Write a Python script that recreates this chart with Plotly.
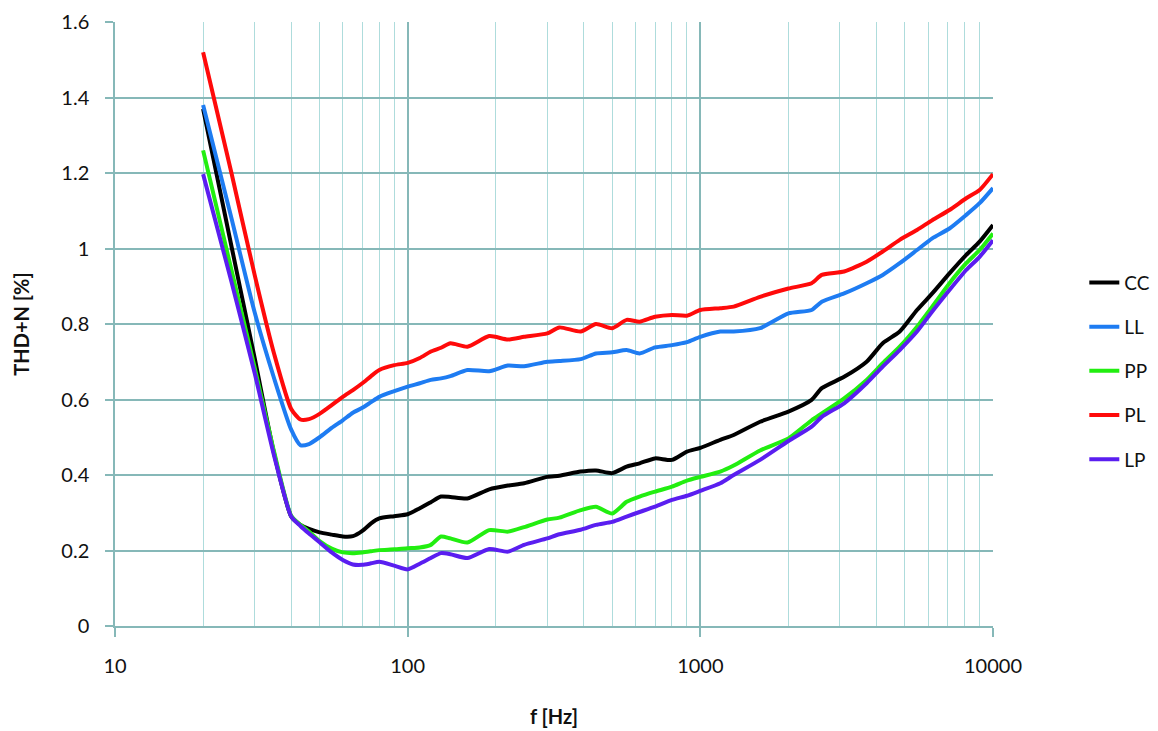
import plotly.graph_objects as go

freq = [20, 25, 30, 35, 40, 43, 46, 50, 55, 60, 65, 70, 75, 80, 90, 100, 110, 120,
        130, 140, 160, 190, 220, 250, 300, 330, 390, 440, 500, 560, 620, 700, 800,
        900, 1000, 1170, 1300, 1600, 2000, 2400, 2600, 3100, 3700, 4200, 4800,
        5500, 6200, 7100, 8100, 9000, 10000]

cc = [1.37, 1.006, 0.71, 0.455, 0.29, 0.268, 0.257, 0.248, 0.242, 0.237, 0.238, 0.252,
      0.272, 0.285, 0.291, 0.296, 0.312, 0.328, 0.343, 0.342, 0.338, 0.362, 0.372,
      0.378, 0.395, 0.398, 0.409, 0.412, 0.405, 0.422, 0.431, 0.444, 0.44, 0.462,
      0.472, 0.493, 0.506, 0.541, 0.568, 0.599, 0.630, 0.660, 0.700, 0.749, 0.780,
      0.837, 0.881, 0.934, 0.983, 1.018, 1.062]

ll = [1.38, 1.08, 0.831, 0.655, 0.52, 0.479, 0.482, 0.50, 0.525, 0.545, 0.565, 0.578,
      0.593, 0.607, 0.622, 0.634, 0.643, 0.652, 0.656, 0.662, 0.678, 0.675, 0.690,
      0.688, 0.700, 0.702, 0.707, 0.722, 0.725, 0.731, 0.722, 0.738, 0.744, 0.752,
      0.766, 0.780, 0.780, 0.789, 0.828, 0.837, 0.859, 0.881, 0.908, 0.930, 0.961,
      0.996, 1.027, 1.053, 1.089, 1.12, 1.16]

pp = [1.26, 0.943, 0.685, 0.46, 0.292, 0.268, 0.250, 0.225, 0.205, 0.195, 0.193, 0.195,
      0.198, 0.201, 0.203, 0.206, 0.208, 0.215, 0.237, 0.232, 0.221, 0.254, 0.250,
      0.262, 0.282, 0.287, 0.307, 0.316, 0.298, 0.329, 0.343, 0.356, 0.369, 0.385,
      0.395, 0.409, 0.425, 0.465, 0.497, 0.545, 0.563, 0.603, 0.652, 0.696, 0.740,
      0.793, 0.846, 0.908, 0.961, 0.996, 1.04]

pl = [1.52, 1.20, 0.93, 0.72, 0.575, 0.547, 0.548, 0.562, 0.585, 0.607, 0.625, 0.643,
      0.662, 0.678, 0.691, 0.697, 0.71, 0.727, 0.737, 0.749, 0.740, 0.768, 0.759,
      0.766, 0.775, 0.791, 0.780, 0.800, 0.789, 0.811, 0.806, 0.819, 0.824, 0.822,
      0.837, 0.842, 0.846, 0.872, 0.894, 0.908, 0.930, 0.939, 0.965, 0.992, 1.023,
      1.049, 1.075, 1.102, 1.133, 1.155, 1.197]

lp = [1.197, 0.912, 0.67, 0.45, 0.29, 0.265, 0.245, 0.222, 0.195, 0.175, 0.163, 0.162,
      0.166, 0.170, 0.160, 0.150, 0.165, 0.180, 0.193, 0.19, 0.180, 0.204, 0.197,
      0.215, 0.232, 0.243, 0.255, 0.268, 0.276, 0.290, 0.302, 0.316, 0.334, 0.345,
      0.358, 0.378, 0.400, 0.440, 0.490, 0.528, 0.554, 0.590, 0.643, 0.687, 0.731,
      0.780, 0.833, 0.89, 0.943, 0.978, 1.022]

series = [("CC", cc, "#000000"), ("LL", ll, "#1E7CF2"), ("PP", pp, "#22EE10"),
          ("PL", pl, "#FF0A0A"), ("LP", lp, "#5A1EF0")]

x_major = [10, 100, 1000, 10000]
x_minor = [20, 30, 40, 50, 60, 70, 80, 90, 200, 300, 400, 500, 600, 700, 800, 900,
           2000, 3000, 4000, 5000, 6000, 7000, 8000, 9000]
y_ticks = [0, 0.2, 0.4, 0.6, 0.8, 1.0, 1.2, 1.4, 1.6]
y_labels = ["0", "0.2", "0.4", "0.6", "0.8", "1", "1.2", "1.4", "1.6"]

FONT = "Lato, 'Open Sans', sans-serif"
MAJOR = "#86B8B8"
MINOR = "#AEDCDC"

fig = go.Figure()
for i, (name, vals, col) in enumerate(series):
    fig.add_trace(go.Scatter(x=freq, y=vals, name=name, mode="lines",
                             line=dict(color=col, width=4, shape="spline", smoothing=0.6),
                             legendgroup=name))

fig.update_layout(
    width=1158, height=731,
    margin=dict(l=115, r=165, t=22, b=105, autoexpand=False),
    paper_bgcolor="white", plot_bgcolor="white",
    font=dict(family=FONT, size=20, color="#111111"),
    showlegend=True,
    legend=dict(x=1.104, xanchor="left", y=0.422, yanchor="middle",
                font=dict(family=FONT, size=19, color="#111111"),
                traceorder="grouped", tracegroupgap=16.5,
                bgcolor="rgba(0,0,0,0)"),
)

fig.update_xaxes(type="log", range=[1, 4], tickvals=x_major, ticktext=[str(v) for v in x_major],
                 showgrid=True, gridcolor=MAJOR, gridwidth=1.5,
                 showline=True, linecolor=MAJOR, linewidth=1.5,
                 ticks="outside", ticklen=9, tickcolor=MAJOR, tickwidth=1.5,
                 ticklabelstandoff=12, automargin=False,
                 minor=dict(tickvals=x_minor, showgrid=True, gridcolor=MINOR, gridwidth=1, ticks=""),
                 zeroline=False,
                 title=dict(text="<b>f [Hz]</b>", font=dict(family=FONT, size=20), standoff=34),
                 tickfont=dict(family=FONT, size=20))

fig.update_yaxes(range=[0, 1.6], tickvals=y_ticks, ticktext=y_labels,
                 showgrid=True, gridcolor=MAJOR, gridwidth=1.5,
                 showline=True, linecolor=MAJOR, linewidth=1.5,
                 ticks="outside", ticklen=8, tickcolor=MAJOR, tickwidth=1.5,
                 ticklabelstandoff=12, automargin=False,
                 zeroline=False,
                 title=dict(text="<b>THD+N [%]</b>", font=dict(family=FONT, size=20), standoff=26),
                 tickfont=dict(family=FONT, size=20))

fig.write_html("out.html")
